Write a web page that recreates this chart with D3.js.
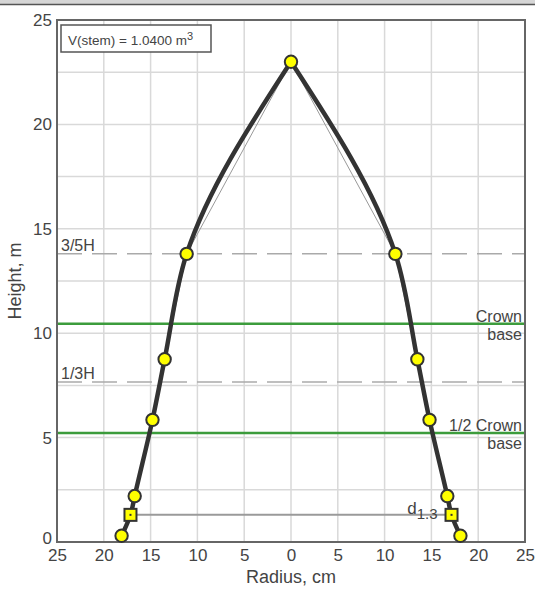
<!DOCTYPE html>
<html>
<head>
<meta charset="utf-8">
<script src="https://cdn.jsdelivr.net/npm/d3@7"></script>
<style>
  body { margin: 0; background: #fff; }
  svg text { font-family: "Liberation Sans", Arial, sans-serif; fill: #444; }
</style>
</head>
<body>
<div id="chart"></div>
<script>
// stem profile (height in m, radius in cm)
const heights = [0.3, 1.3, 2.2, 5.85, 8.75, 13.8, 23]
const radii = [18.1, 17.15, 16.7, 14.8, 13.5, 11.15, 0]
const stemH = 23
const crownBase = 10.45
const volumeText = 'V(stem) = 1.0400 m'
const xTicks = [-25, -20, -15, -10, -5, 0, 5, 10, 15, 20, 25]
const yTicks = [0, 5, 10, 15, 20, 25]
const yGrid = [2.5, 5, 7.5, 10, 12.5, 15, 17.5, 20, 22.5]

const width = 535, height = 592
const pLeft = 57, pRight = 525, pTop = 20, pBottom = 542

const svg = d3.select('#chart').append('svg')
  .attr('width', width).attr('height', height)

// window edge at the top
svg.append('rect').attr('x', 0).attr('y', 0).attr('width', width).attr('height', 4).attr('fill', '#d6d6d6')
svg.append('line').attr('x1', 0).attr('x2', width).attr('y1', 4.5).attr('y2', 4.5).attr('stroke', '#555').attr('stroke-width', 1.5)

const x = d3.scaleLinear([-25, 25], [pLeft, pRight])
const y = d3.scaleLinear([0, 25], [pBottom, pTop])

const g = svg.append('g')

// grid
g.selectAll('.vgrid').data(xTicks.slice(1, -1)).enter().append('line')
  .attr('x1', d => x(d)).attr('x2', d => x(d))
  .attr('y1', pTop).attr('y2', pBottom)
  .attr('stroke', '#d9d9d9').attr('stroke-width', 1.5)
g.selectAll('.hgrid').data(yGrid).enter().append('line')
  .attr('x1', pLeft).attr('x2', pRight)
  .attr('y1', d => y(d)).attr('y2', d => y(d))
  .attr('stroke', '#d9d9d9').attr('stroke-width', 1.5)

// dashed fractions of height
const fracs = [{ label: '3/5H', h: stemH * 3 / 5 }, { label: '1/3H', h: stemH / 3 }]
fracs.forEach(f => {
  g.append('line')
    .attr('x1', pLeft).attr('x2', pRight)
    .attr('y1', y(f.h)).attr('y2', y(f.h))
    .attr('stroke', '#aaa').attr('stroke-width', 1.5)
    .attr('stroke-dasharray', '25,10')
  g.append('text').attr('x', pLeft + 4).attr('y', y(f.h) - 3)
    .attr('font-size', 16).text(f.label)
})

// crown base lines
const greens = [{ h: crownBase, l1: 'Crown', l2: 'base' }, { h: crownBase / 2, l1: '1/2 Crown', l2: 'base' }]
greens.forEach(c => {
  g.append('line')
    .attr('x1', pLeft).attr('x2', pRight)
    .attr('y1', y(c.h)).attr('y2', y(c.h))
    .attr('stroke', '#3c9c3c').attr('stroke-width', 2.5)
  g.append('text').attr('x', pRight - 3).attr('y', y(c.h) - 2)
    .attr('text-anchor', 'end').attr('font-size', 16).text(c.l1)
  g.append('text').attr('x', pRight - 3).attr('y', y(c.h) + 16)
    .attr('text-anchor', 'end').attr('font-size', 16).text(c.l2)
})

// frame
g.append('rect').attr('x', pLeft).attr('y', pTop)
  .attr('width', pRight - pLeft).attr('height', pBottom - pTop)
  .attr('fill', 'none').attr('stroke', '#666').attr('stroke-width', 2)

// axes
const xAxis = g.append('g').attr('transform', `translate(0,${pBottom})`)
  .call(d3.axisBottom(x).tickValues(xTicks).tickSize(0).tickPadding(7).tickFormat(d => Math.abs(d)))
xAxis.select('.domain').remove()
xAxis.selectAll('text').attr('font-size', 17).attr('font-family', '"Liberation Sans", Arial, sans-serif').attr('fill', '#444')

const yAxis = g.append('g').attr('transform', `translate(${pLeft},0)`)
  .call(d3.axisLeft(y).tickValues(yTicks).tickSize(0).tickPadding(5))
yAxis.select('.domain').remove()
yAxis.selectAll('text').attr('font-size', 17).attr('font-family', '"Liberation Sans", Arial, sans-serif').attr('fill', '#444')
yAxis.selectAll('text').filter(d => d === 0).attr('dy', '0.1em')

svg.append('text').attr('x', (pLeft + pRight) / 2).attr('y', 583)
  .attr('text-anchor', 'middle').attr('font-size', 18).text('Radius, cm')
svg.append('text').attr('transform', `translate(21,${(pTop + pBottom) / 2}) rotate(-90)`)
  .attr('text-anchor', 'middle').attr('font-size', 18).text('Height, m')

// profile points, apex first so screen y increases
const pts = heights.map((h, i) => ({ h: h, r: radii[i] })).sort((a, b) => b.h - a.h)

// thin straight profile
const thin = d3.line().x(d => x(d.r)).y(d => y(d.h))
g.append('path').attr('d', thin(pts.map(d => ({ h: d.h, r: -d.r }))))
  .attr('fill', 'none').attr('stroke', '#999').attr('stroke-width', 1)
g.append('path').attr('d', thin(pts))
  .attr('fill', 'none').attr('stroke', '#999').attr('stroke-width', 1)

// d1.3 line
const d13 = pts.find(d => d.h === 1.3)
g.append('line')
  .attr('x1', x(-d13.r)).attr('x2', x(d13.r))
  .attr('y1', y(1.3)).attr('y2', y(1.3))
  .attr('stroke', '#9a9a9a').attr('stroke-width', 2)
const dl = g.append('text').attr('x', x(d13.r) - 14).attr('y', y(1.3) - 1)
  .attr('text-anchor', 'end').attr('font-size', 17)
dl.append('tspan').text('d')
dl.append('tspan').attr('dy', 5).attr('font-size', 15).text('1.3')

// smooth thick profile
const thick = d3.line().x(d => x(d.r)).y(d => y(d.h)).curve(d3.curveMonotoneY)
g.append('path').attr('d', thick(pts.map(d => ({ h: d.h, r: -d.r }))))
  .attr('fill', 'none').attr('stroke', '#333').attr('stroke-width', 4.5).attr('stroke-linejoin', 'round')
g.append('path').attr('d', thick(pts))
  .attr('fill', 'none').attr('stroke', '#333').attr('stroke-width', 4.5).attr('stroke-linejoin', 'round')

// markers
const markers = []
pts.forEach(d => {
  if (d.r === 0) markers.push({ h: d.h, r: 0 })
  else { markers.push({ h: d.h, r: -d.r }); markers.push({ h: d.h, r: d.r }) }
})
g.selectAll('.pt').data(markers.filter(d => d.h !== 1.3)).enter().append('circle')
  .attr('cx', d => x(d.r)).attr('cy', d => y(d.h)).attr('r', 6.2)
  .attr('fill', '#ffff00').attr('stroke', '#333').attr('stroke-width', 2)
g.selectAll('.sq').data(markers.filter(d => d.h === 1.3)).enter().append('rect')
  .attr('x', d => x(d.r) - 6).attr('y', d => y(d.h) - 6)
  .attr('width', 12).attr('height', 12)
  .attr('fill', '#ffff00').attr('stroke', '#333').attr('stroke-width', 2)
g.selectAll('.sqdot').data(markers.filter(d => d.h === 1.3)).enter().append('rect')
  .attr('x', d => x(d.r) - 1).attr('y', d => y(d.h) - 1)
  .attr('width', 2).attr('height', 2).attr('fill', '#333')

// volume box
g.append('rect').attr('x', 61).attr('y', 25).attr('width', 150).attr('height', 27)
  .attr('fill', '#fff').attr('stroke', '#555').attr('stroke-width', 1.5)
const vt = g.append('text').attr('x', 68).attr('y', 45).attr('font-size', 13.5).attr('fill', '#222')
vt.append('tspan').text(volumeText)
vt.append('tspan').attr('dy', -5).attr('font-size', 11).text('3')
</script>
</body>
</html>
